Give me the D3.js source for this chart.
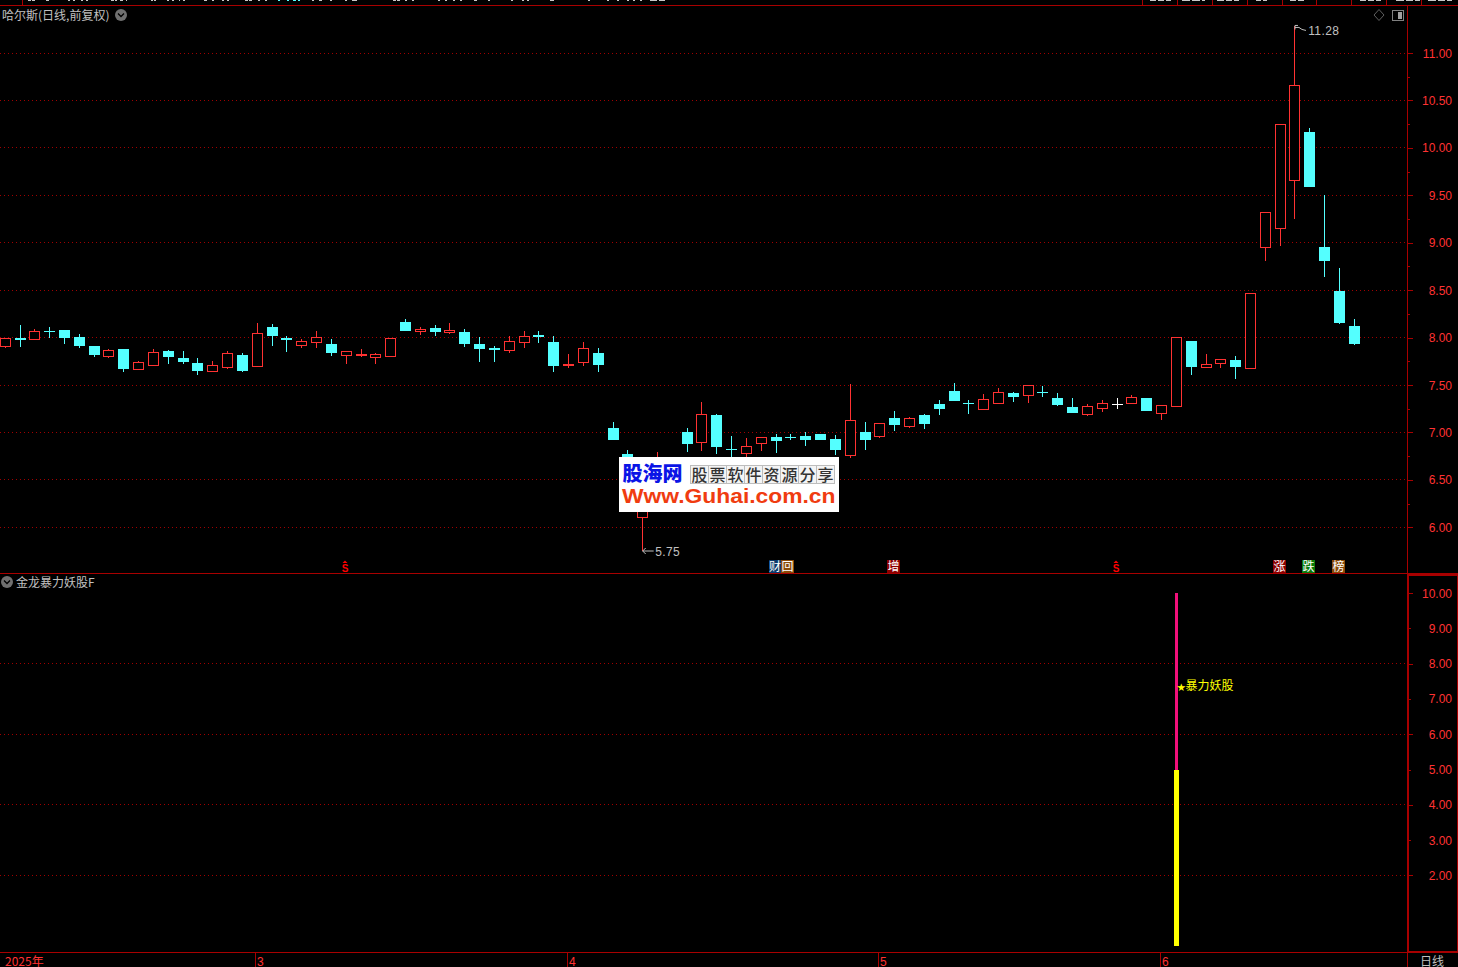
<!DOCTYPE html>
<html><head><meta charset="utf-8">
<style>html,body{margin:0;padding:0;background:#000;overflow:hidden}svg{display:block}
text{font-family:"Liberation Sans",Arial,sans-serif}
.cjk{font-family:"Noto Sans CJK SC","Noto Sans",sans-serif}</style>
<script src="https://cdn.jsdelivr.net/npm/d3@7/dist/d3.min.js"></script>
</head><body><svg id="c" width="1458" height="967"></svg>
<script>
const open=[7.913,7.992,7.986,8.072,8.076,8.003,7.91,7.809,7.878,7.67,7.715,7.858,7.781,7.733,7.649,7.694,7.816,7.705,8.108,7.992,7.924,7.955,7.931,7.819,7.82,7.799,7.809,8.16,8.069,8.097,8.059,8.056,7.931,7.887,7.868,7.955,8.022,7.951,7.708,7.743,7.837,
7.046,6.77,6.113,6.4,6.68,7.004,6.9,7.184,6.825,6.784,6.89,6.95,6.952,6.96,6.982,6.926,6.762,7.004,6.965,7.152,7.071,7.184,7.301,7.44,7.311,7.248,7.309,7.42,7.392,7.426,7.358,7.264,7.191,7.253,7.302,7.309,7.358,7.205,7.278,7.962,7.694,7.736,7.764,7.684,8.958,9.158,9.658,10.169,8.954,8.489,8.12];
const close=[8.0,7.988,8.073,8.068,8.003,7.92,7.826,7.865,7.68,7.74,7.844,7.806,7.753,7.66,7.708,7.833,7.66,8.052,8.024,7.988,7.969,8.01,7.847,7.854,7.832,7.823,8.0,8.076,8.094,8.066,8.083,7.941,7.889,7.883,7.969,8.021,8.018,7.712,7.72,7.885,7.722,
6.929,6.58,6.42,6.65,6.55,6.887,7.19,6.855,6.821,6.862,6.957,6.92,6.948,6.93,6.929,6.823,7.128,6.929,7.096,7.089,7.149,7.1,7.259,7.344,7.307,7.351,7.426,7.382,7.5,7.422,7.295,7.212,7.281,7.306,7.302,7.375,7.233,7.292,8.01,7.701,7.722,7.771,7.701,8.465,9.32,10.25,10.662,9.602,8.82,8.165,7.944];
const high=[8.0,8.128,8.087,8.108,8.076,8.035,7.91,7.878,7.878,7.753,7.875,7.868,7.858,7.785,7.753,7.858,7.837,8.149,8.139,8.014,7.983,8.066,7.983,7.854,7.878,7.833,8.0,8.201,8.108,8.128,8.149,8.087,8.003,7.91,8.014,8.066,8.066,8.014,7.826,7.951,7.889,
7.11,6.81,6.45,6.79,6.7,7.046,7.323,7.195,6.96,6.94,6.957,6.98,6.98,7.004,6.982,6.972,7.514,7.11,7.096,7.227,7.163,7.195,7.344,7.525,7.344,7.408,7.472,7.431,7.5,7.493,7.42,7.358,7.295,7.347,7.358,7.399,7.358,7.292,8.01,7.962,7.826,7.771,7.806,8.465,9.32,10.25,11.28,10.211,9.5,8.732,8.194];
const low=[7.89,7.9,7.976,7.997,7.93,7.889,7.795,7.788,7.639,7.663,7.715,7.722,7.722,7.608,7.639,7.67,7.639,7.691,7.91,7.847,7.889,7.889,7.806,7.722,7.795,7.722,7.795,8.066,8.024,8.014,8.035,7.9,7.743,7.743,7.837,7.889,7.941,7.639,7.68,7.701,7.639,
6.929,6.5,5.75,6.35,6.5,6.791,6.8,6.77,6.7,6.72,6.8,6.78,6.92,6.855,6.918,6.759,6.727,6.812,6.94,7.014,7.046,7.035,7.184,7.333,7.195,7.238,7.309,7.319,7.309,7.372,7.278,7.201,7.174,7.215,7.243,7.295,7.222,7.128,7.278,7.608,7.694,7.68,7.566,7.684,8.81,8.968,9.254,9.602,8.641,8.144,7.923];

const priceTicks=[11,10.5,10,9.5,9,8.5,8,7.5,7,6.5,6];
const priceMinor=[10.75,10.25,9.75,9.25,8.75,8.25,7.75,7.25,6.75,6.25];
const indTicks=[10,9,8,7,6,5,4,3,2];
const indMajor=[10,8,6,4,2];
const monthIdx=[17,38,59,78];
const monthLabels=["3","4","5","6"];
const signalIdx=79;
const signalPink=[5,10];
const signalYellow=[0,5];
const signalStar="★";
const signalText="暴力妖股";
const signalValue=7.4;
const badges=[["$",345,"none","#ff0000"],["财",775,"#0b3a6b","#fff"],["回",787.5,"#8a4a08","#fff"],["增",893.5,"#8c0000","#fff"],["$",1116,"none","#ff0000"],["涨",1279.5,"#8c0000","#fff"],["跌",1308.5,"#0a7a0a","#fff"],["榜",1338.5,"#8a4a08","#fff"]];
const headerSeparators=[22,1142,1177,1212,1247,1282,1316,1351,1386,1421];
const headerDashes=[[28,31],[32,35],[46,49],[68,70],[73,75],[81,83],[86,88],[111,114],[115,117],[120,123],[126,127],[151,153],[154,156],[167,169],[172,174],[179,180],[183,185],[204,207],[212,214],[222,224],[227,229],[245,248],[249,252],[258,260],[265,267],[312,314],[319,322],[330,332],[345,347],[352,357],[393,396],[397,400],[405,407],[412,414],[438,440],[445,447],[453,455],[460,462],[474,477],[488,490],[511,513],[522,524],[527,529],[550,554],[588,590],[607,609],[617,619],[627,629],[633,635],[640,642],[650,657],[659,665],
 [1150,1156],[1158,1164],[1166,1171],[1182,1190],[1192,1200],[1202,1205],[1217,1224],[1226,1232],[1234,1239],[1256,1261],[1263,1267],[1290,1296],[1298,1304],[1360,1366],[1368,1374],[1376,1381],[1396,1404],[1406,1413],[1415,1420],[1428,1436],[1438,1445],[1447,1452]];
const headerCyan=[[278,280],[287,289],[293,296],[298,300]];

const RED="#ff3232",CYAN="#54ffff",LINE="#a80000",GRID="#a00000",GRAY="#c0c0c0";
const W=1458,H=967,AX=1407.5;
const svg=d3.select("#c");
svg.append("rect").attr("width",W).attr("height",H).attr("fill","#000");

const idx=d3.range(open.length);
const x=d3.scalePoint().domain(idx).range([5.2,5.2+14.825*(open.length-1)]);
const y=d3.scaleLinear().domain([6,11]).range([527.3,53]);
const yi=d3.scaleLinear().domain([0,10]).range([946,593]);
const px=v=>Math.floor(v)+0.5;

const crisp=svg.append("g").attr("shape-rendering","crispEdges");

// grid
crisp.selectAll(".g").data(priceTicks).join("line").attr("x1",0).attr("x2",AX)
 .attr("y1",d=>px(y(d))).attr("y2",d=>px(y(d))).attr("stroke",GRID).attr("stroke-dasharray","1 3");
crisp.selectAll(".gi").data(indMajor.filter(d=>d<10)).join("line").attr("x1",0).attr("x2",AX)
 .attr("y1",d=>px(yi(d))).attr("y2",d=>px(yi(d))).attr("stroke",GRID).attr("stroke-dasharray","1 3");

// candles
const colorOf=i=>close[i]>open[i]?RED:close[i]<open[i]?CYAN:"#ffffff";
const cw=11;
const bodyTop=i=>Math.round(y(Math.max(open[i],close[i])));
const bodyBot=i=>Math.round(y(Math.min(open[i],close[i])));
const cg=crisp.append("g");
cg.selectAll(".wick").data(idx).join("line").attr("class","wick")
 .attr("x1",i=>px(x(i))).attr("x2",i=>px(x(i)))
 .attr("y1",i=>y(high[i])).attr("y2",i=>y(low[i])).attr("stroke",colorOf);
cg.selectAll(".body").data(idx.filter(i=>bodyBot(i)-bodyTop(i)>=1)).join("rect").attr("class","body")
 .attr("x",i=>px(x(i))-(cw-1)/2)
 .attr("width",cw-1)
 .attr("y",i=>bodyTop(i)+0.5)
 .attr("height",i=>bodyBot(i)-bodyTop(i))
 .attr("fill",i=>close[i]>open[i]?"#000":colorOf(i))
 .attr("stroke",colorOf);
cg.selectAll(".doji").data(idx.filter(i=>bodyBot(i)-bodyTop(i)<1)).join("line").attr("class","doji")
 .attr("x1",i=>px(x(i))-5.5).attr("x2",i=>px(x(i))+5.5)
 .attr("y1",i=>bodyTop(i)+0.5).attr("y2",i=>bodyTop(i)+0.5).attr("stroke",colorOf);

// high/low annotations
function note(i,v,dx,dy,txt,pathD){
  const X=x(i),Y=y(v);
  svg.append("path").attr("d",pathD(X,Y)).attr("fill","none").attr("stroke",GRAY).attr("stroke-width",1);
  svg.append("text").attr("x",X+dx).attr("y",Y+dy).attr("font-size",12).attr("letter-spacing",0.4).attr("fill",GRAY).text(txt);
}
note(idx.find(i=>high[i]===d3.max(high)),d3.max(high),13.2,9,"11.28",
  (X,Y)=>`M${X},${Y+3}L${X},${Y-1}L${X+3},${Y-1}M${X},${Y+1}L${X+4},${Y+1}L${X+7},${Y+3}L${X+11},${Y+4}`);
note(idx.find(i=>low[i]===d3.min(low)),d3.min(low),12.5,5,"5.75",
  (X,Y)=>`M${X},${Y}L${X+11},${Y}M${X},${Y}L${X+3},${Y-3}M${X},${Y}L${X+3},${Y+3}`);

// indicator panel
const sx=px(x(signalIdx));
crisp.append("line").attr("x1",sx).attr("x2",sx).attr("y1",yi(signalPink[1])).attr("y2",yi(signalPink[0])).attr("stroke","#f0107a").attr("stroke-width",3);
crisp.append("line").attr("x1",sx).attr("x2",sx).attr("y1",yi(signalYellow[1])).attr("y2",yi(signalYellow[0])).attr("stroke","#ffff00").attr("stroke-width",5);
const sg=svg.append("text").attr("class","cjk").attr("x",sx+0.5).attr("y",yi(signalValue)+5).attr("font-size",12).attr("fill","#ffff00");
sg.append("tspan").attr("font-size",8.5).text(signalStar);
sg.append("tspan").text(signalText);

// frames
const fr=crisp.append("g").attr("stroke",LINE);
fr.append("line").attr("x1",0).attr("x2",W).attr("y1",5.5).attr("y2",5.5);
fr.append("line").attr("x1",0).attr("x2",W).attr("y1",573.5).attr("y2",573.5);
fr.append("line").attr("x1",0).attr("x2",W).attr("y1",952.5).attr("y2",952.5);
fr.append("line").attr("x1",AX).attr("x2",AX).attr("y1",5).attr("y2",H);
fr.append("rect").attr("x",1408).attr("y",574.5).attr("width",49.5).attr("height",377.5).attr("fill","none").attr("stroke-width",2);
fr.selectAll(".hs").data(headerSeparators).join("line").attr("x1",d=>d+0.5).attr("x2",d=>d+0.5).attr("y1",0).attr("y2",5);

// header strip: only the last pixel row of the quote bar is on screen
crisp.selectAll(".hd").data(headerDashes).join("line").attr("x1",d=>d[0]).attr("x2",d=>d[1]).attr("y1",0.5).attr("y2",0.5).attr("stroke","#c8c8c8");
crisp.selectAll(".hc").data(headerCyan).join("line").attr("x1",d=>d[0]).attr("x2",d=>d[1]).attr("y1",0.5).attr("y2",0.5).attr("stroke",CYAN);

// price axis
const gA=svg.append("g").attr("transform",`translate(${AX},0)`).attr("shape-rendering","crispEdges")
 .call(d3.axisRight(y).tickValues(priceTicks).tickSize(5).tickFormat(""));
gA.select(".domain").remove(); gA.selectAll("line").attr("stroke",LINE);
const gA2=svg.append("g").attr("transform",`translate(${AX},0)`).attr("shape-rendering","crispEdges")
 .call(d3.axisRight(y).tickValues(priceMinor).tickSize(2).tickFormat(""));
gA2.select(".domain").remove(); gA2.selectAll("line").attr("stroke",LINE);
svg.selectAll(".pl").data(priceTicks).join("text").attr("x",1452).attr("y",d=>y(d)+4.5)
 .attr("text-anchor","end").attr("font-size",12).attr("fill",RED).text(d=>d.toFixed(2));

// indicator axis
const gB=svg.append("g").attr("transform","translate(1409,0)").attr("shape-rendering","crispEdges")
 .call(d3.axisRight(yi).tickValues(indMajor).tickSize(4).tickFormat(""));
gB.select(".domain").remove(); gB.selectAll("line").attr("stroke",LINE);
const gB2=svg.append("g").attr("transform","translate(1409,0)").attr("shape-rendering","crispEdges")
 .call(d3.axisRight(yi).tickValues(indTicks.filter(d=>!indMajor.includes(d))).tickSize(2).tickFormat(""));
gB2.select(".domain").remove(); gB2.selectAll("line").attr("stroke",LINE);
svg.selectAll(".il").data(indTicks).join("text").attr("x",1452).attr("y",d=>yi(d)+4.5)
 .attr("text-anchor","end").attr("font-size",12).attr("fill",RED).text(d=>d.toFixed(2));

// x axis
crisp.selectAll(".mt").data(monthIdx).join("line").attr("stroke",LINE)
 .attr("x1",d=>Math.round(x(d))-1.5).attr("x2",d=>Math.round(x(d))-1.5).attr("y1",953).attr("y2",H);
svg.selectAll(".ml").data(monthIdx).join("text").attr("x",d=>Math.round(x(d))).attr("y",965.5)
 .attr("font-size",12).attr("fill",RED).text((d,i)=>monthLabels[i]);
svg.append("text").attr("class","cjk").attr("x",5).attr("y",965.5).attr("font-size",12).attr("fill",RED).text("2025年");
svg.append("text").attr("class","cjk").attr("x",1420).attr("y",965.5).attr("font-size",12).attr("fill",GRAY).text("日线");

// titles
svg.append("text").attr("class","cjk").attr("x",2).attr("y",19.5).attr("font-size",12).attr("fill",GRAY).text("哈尔斯(日线,前复权)");
svg.append("text").attr("class","cjk").attr("x",16).attr("y",586.5).attr("font-size",12).attr("fill",GRAY).text("金龙暴力妖股F");

function chevron(cx,cy){
  svg.append("circle").attr("cx",cx).attr("cy",cy).attr("r",6).attr("fill","#707070");
  svg.append("path").attr("d",`M${cx-3},${cy-1.5}L${cx},${cy+1.5}L${cx+3},${cy-1.5}`).attr("fill","none").attr("stroke","#000").attr("stroke-width",1.3);
}
chevron(121,15); chevron(7,582);

// top-right controls
svg.append("path").attr("d","M1379,9.5L1384,15L1379,20.5L1374,15Z").attr("fill","none").attr("stroke","#606060");
crisp.append("rect").attr("x",1392.5).attr("y",10.5).attr("width",11).attr("height",10).attr("rx",1).attr("fill","none").attr("stroke","#808080");
crisp.append("rect").attr("x",1398).attr("y",12).attr("width",4).attr("height",7).attr("fill","#a0a0a0");

// event badges
badges.forEach(([t,cx,bg,fg])=>{
  if(bg!=="none") crisp.append("rect").attr("x",cx-6.5).attr("y",559.5).attr("width",13).attr("height",13).attr("fill",bg);
  if(t==="$"){
    svg.append("path").attr("d",`M${cx-2.5},563L${cx},560.5L${cx+2.5},563Z`).attr("fill",fg);
    svg.append("text").attr("x",cx).attr("y",572).attr("text-anchor","middle").attr("font-size",10).attr("font-weight","bold").attr("fill",fg).text("S");
  } else {
    svg.append("text").attr("class","cjk").attr("x",cx).attr("y",570.5).attr("text-anchor","middle").attr("font-size",12).attr("fill",fg).text(t);
  }
});

// watermark
const wm=svg.append("g");
wm.append("rect").attr("x",619).attr("y",457).attr("width",220).attr("height",55).attr("fill","#fff");
wm.append("text").attr("class","cjk").attr("x",622.5).attr("y",481).attr("font-size",20).attr("font-weight",900).attr("fill","#0a14e6").text("股海网");
const cells="股票软件资源分享".split("");
const wmc=wm.append("g");
cells.forEach((c,i)=>{
  wmc.append("rect").attr("x",690.5+i*18).attr("y",465.5).attr("width",18).attr("height",18).attr("fill","#f4f4f4").attr("stroke","#bdbdbd").attr("shape-rendering","crispEdges");
  wmc.append("text").attr("class","cjk").attr("x",699.5+i*18).attr("y",480.5).attr("text-anchor","middle").attr("font-size",16).attr("font-weight",500).attr("fill","#333").text(c);
});
wm.append("text").attr("x",622).attr("y",503).attr("font-size",20).attr("font-weight","bold").attr("textLength",213.5).attr("lengthAdjust","spacingAndGlyphs").attr("fill","#f03c10").text("Www.Guhai.com.cn");
</script></body></html>
